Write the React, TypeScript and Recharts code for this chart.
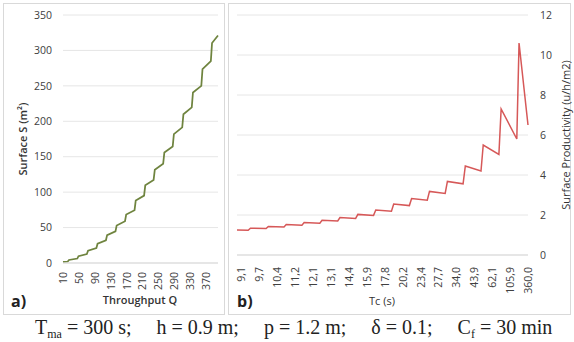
import React from 'react';
import { LineChart, Line, XAxis, YAxis, CartesianGrid } from 'recharts';

// Panel a) : Surface S (m²) vs Throughput Q
const leftQ = [10, 22, 25, 46, 49, 70, 73, 94, 97, 118, 121, 142, 145, 166, 169, 190, 193, 214, 217, 238, 241, 262, 265, 286, 289, 310, 313, 334, 337, 358, 361, 382, 385, 400];
const leftS = [1.5, 2.1, 4.3, 6.3, 9.7, 12.7, 17.4, 21.1, 27.2, 32.1, 39.3, 44.7, 52.9, 58.9, 68.4, 74.5, 88.1, 95.1, 109.6, 117.2, 131.7, 140.1, 155.9, 164.4, 181.8, 191.4, 210, 219.7, 240.7, 250, 273.5, 285, 310.5, 321];
const leftXTicks = [10, 50, 90, 130, 170, 210, 250, 290, 330, 370];
const leftYTicks = [0, 50, 100, 150, 200, 250, 300, 350];

// Panel b) : Surface Productivity (u/h/m2) vs Tc (s)
const rightQ = [400, 385, 382, 361, 358, 337, 334, 313, 310, 289, 286, 265, 262, 241, 238, 217, 214, 193, 190, 169, 166, 145, 142, 121, 118, 97, 94, 73, 70, 49, 46, 25, 22, 10];
const rightP = [1.25, 1.24, 1.34, 1.32, 1.43, 1.40, 1.52, 1.49, 1.62, 1.59, 1.74, 1.70, 1.87, 1.83, 2.03, 1.98, 2.25, 2.19, 2.55, 2.47, 2.82, 2.74, 3.18, 3.08, 3.68, 3.56, 4.45, 4.2, 5.5, 5.03, 7.3, 5.8, 10.6, 6.5];
const rightTickQ = [10, 34, 58, 82, 106, 130, 154, 178, 202, 226, 250, 274, 298, 322, 346, 370, 394];
const rightTickLabels = ['360,0', '105,9', '62,1', '43,9', '34,0', '27,7', '23,4', '20,2', '17,8', '15,9', '14,4', '13,1', '12,1', '11,2', '10,4', '9,7', '9,1'];
const rightYTicks = [0, 2, 4, 6, 8, 10, 12];

const leftData = leftQ.map((q, i) => ({ q, s: leftS[i] }));
const rightData = rightQ.map((q, i) => ({ q, p: rightP[i] }));

const FONT = '"Open Sans", "Noto Sans", sans-serif';
const TICK = '#404040';
const GRID = '#e6e6e6';

const RotTick = (props: any) => {
  const { x, y, payload, fmt } = props;
  const label = fmt ? fmt(payload.value) : String(payload.value);
  return (
    <text
      transform={`translate(${x},${y}) rotate(-90)`}
      textAnchor="end"
      dominantBaseline="central"
      fontSize={10.5}
      fontFamily={FONT}
      fill={TICK}
    >
      {label}
    </text>
  );
};

const rightFmt = (v: number) => {
  const i = rightTickQ.indexOf(v);
  return i >= 0 ? rightTickLabels[i] : '';
};

const subStyle: React.CSSProperties = { fontSize: 12, verticalAlign: '-4px', lineHeight: 0 };

export default function App() {
  return (
    <div style={{ position: 'absolute', left: 0, top: 0, width: 574, height: 342, background: '#fff', overflow: 'hidden', fontFamily: FONT }}>
      {/* panel frames */}
      <div style={{ position: 'absolute', left: 3, top: 3, width: 220, height: 310, border: '1px solid #d9d9d9' }} />
      <div style={{ position: 'absolute', left: 228, top: 3, width: 341, height: 310, border: '1px solid #d9d9d9' }} />

      <div style={{ position: 'absolute', left: 3, top: 3 }}>
        <LineChart width={222} height={312} data={leftData} margin={{ top: 12, right: 7, bottom: 0, left: 0 }}>
          <CartesianGrid horizontal vertical={false} stroke={GRID} />
          <XAxis
            dataKey="q"
            type="number"
            domain={[10, 400]}
            ticks={leftXTicks}
            interval={0}
            height={52}
            axisLine={{ stroke: '#d9d9d9' }}
            tickLine={false}
            tickSize={0}
            tickMargin={9}
            tick={<RotTick />}
          />
          <YAxis
            type="number"
            domain={[0, 350]}
            ticks={leftYTicks}
            interval={0}
            width={60}
            axisLine={false}
            tickLine={false}
            tickSize={0}
            tickMargin={11}
            tick={{ fontSize: 10.5, fill: TICK, fontFamily: FONT }}
          />
          <Line type="linear" dataKey="s" stroke="#6f843f" strokeWidth={1.75} dot={false} isAnimationActive={false} />
        </LineChart>
      </div>

      <div style={{ position: 'absolute', left: 228, top: 3 }}>
        <LineChart width={343} height={312} data={rightData} margin={{ top: 12, right: 0, bottom: 0, left: 9 }}>
          <CartesianGrid horizontal vertical={false} stroke={GRID} />
          <XAxis
            dataKey="q"
            type="number"
            domain={[10, 400]}
            reversed
            ticks={rightTickQ}
            interval={0}
            height={60}
            axisLine={{ stroke: '#d9d9d9' }}
            tickLine={false}
            tickSize={0}
            tickMargin={12}
            tick={<RotTick fmt={rightFmt} />}
          />
          <YAxis
            orientation="right"
            type="number"
            domain={[0, 12]}
            ticks={rightYTicks}
            interval={0}
            width={43}
            axisLine={false}
            tickLine={false}
            tickSize={0}
            tickMargin={12}
            tick={{ fontSize: 10.5, fill: TICK, fontFamily: FONT, textAnchor: 'start' }}
          />
          <Line type="linear" dataKey="p" stroke="#d65858" strokeWidth={1.5} dot={false} isAnimationActive={false} />
        </LineChart>
      </div>

      <svg width={574} height={342} style={{ position: 'absolute', left: 0, top: 0, pointerEvents: 'none' }}>
        <text x={22} y={139} transform="rotate(-90 22 139)" textAnchor="middle" dominantBaseline="central" fontSize={11} fontWeight={600} fill="#333" fontFamily={FONT}>
          Surface  S (m²)
        </text>
        <text x={140} y={304} textAnchor="middle" fontSize={11} fontWeight={600} fill="#333" fontFamily={FONT}>
          Throughput Q
        </text>
        <text x={565} y={135} transform="rotate(-90 565 135)" textAnchor="middle" dominantBaseline="central" fontSize={11} fill="#333" fontFamily={FONT}>
          Surface Productivity (u/h/m2)
        </text>
        <text x={382} y={305} textAnchor="middle" fontSize={11} fill="#333" fontFamily={FONT}>
          Tc (s)
        </text>
        <text x={11} y={307} fontSize={16} fontWeight={700} fill="#222" fontFamily={FONT}>a)</text>
        <text x={237} y={307} fontSize={16} fontWeight={700} fill="#222" fontFamily={FONT}>b)</text>
      </svg>

      <div style={{ position: 'absolute', left: 35, top: 316, fontFamily: '"Liberation Serif", "DejaVu Serif", serif', fontSize: 20, color: '#222', whiteSpace: 'pre', lineHeight: '22px' }}>
        <span>T<sub style={subStyle}>ma</sub> = 300 s;</span>
        <span style={{ marginLeft: 25 }}>h = 0.9 m;</span>
        <span style={{ marginLeft: 25 }}>p = 1.2 m;</span>
        <span style={{ marginLeft: 25 }}>δ = 0.1;</span>
        <span style={{ marginLeft: 25 }}>C<sub style={subStyle}>f</sub> = 30 min</span>
      </div>
    </div>
  );
}
